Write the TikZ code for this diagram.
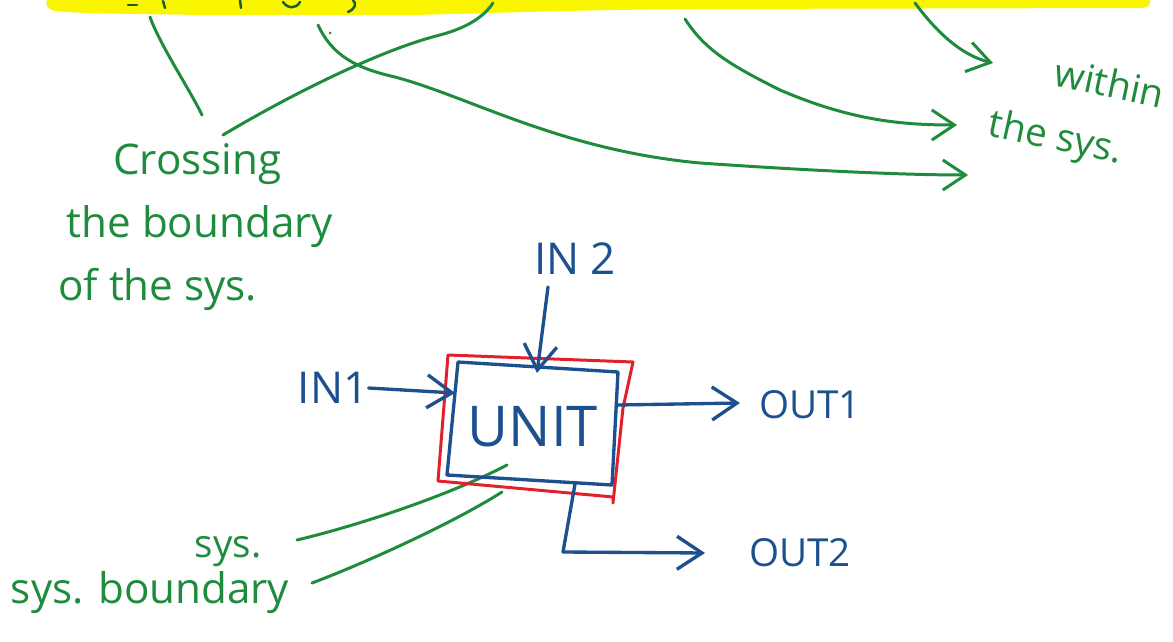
\documentclass[tikz,border=0pt]{standalone}
\usepackage{fontspec}
\setmainfont{Open Sans}
\usetikzlibrary{arrows.meta}
\definecolor{gink}{RGB}{30,140,60}
\definecolor{gdark}{RGB}{25,95,45}
\definecolor{bink}{RGB}{28,80,142}
\definecolor{rink}{RGB}{226,32,44}
\definecolor{hilite}{RGB}{250,246,0}
\begin{document}
\begin{tikzpicture}[x=0.02cm,y=-0.02cm,
  ink/.style={line width=1.7pt, line cap=round, line join=round},
  green ink/.style={ink, draw=gink},
  blue ink/.style={ink, draw=bink, line width=1.9pt},
  red ink/.style={ink, draw=rink},
  barb/.style={-{Straight Barb[length=4.5mm,width=6mm]}},
  big barb/.style={-{Straight Barb[length=5mm,width=6.6mm]}},
  glabel/.style={text=gink, inner sep=0pt, font=\fontsize{24}{36}\selectfont},
  blabel/.style={text=bink, inner sep=0pt}]
\useasboundingbox (0,0) rectangle (1173,642);
\fill[white] (0,0) rectangle (1173,642);

% highlighter stroke along the top edge
\fill[hilite] (47,0) -- (1150,0) -- (1150,2)
  .. controls (1150,7) and (1146,8) .. (1140,8) -- (700,9)
  .. controls (560,10) and (470,14) .. (410,15) -- (210,15)
  .. controls (120,14) and (70,13) .. (55,11)
  .. controls (47,9) and (45,5) .. (47,0) -- cycle;
% bits of writing under the highlighter
\begin{scope}[ink, draw=gdark, line width=1.4pt]
  \draw (128,5) -- (137,5);
  \draw (163,1) -- (165,8);
  \draw (240,0) -- (241,8);
  \draw (283,2) .. controls (288,9) and (296,9) .. (300,2);
  \draw (353,0) .. controls (357,4) and (355,9) .. (348,12);
\end{scope}

% ---- green notes ----
\node[glabel, align=left, anchor=north west] (cross) at (58,143)
  {\hspace*{1.3em}Crossing\\\hspace*{0.2em}the boundary\\of the sys.};
\node[glabel, font=\fontsize{22}{36}\selectfont, align=left, rotate=-12] (within)
  at (1076,112) {\hspace*{1.4em}within\\the sys.};
\node[glabel, font=\fontsize{22}{28}\selectfont, anchor=base] (sys) at (228,557) {sys.};
\node[glabel, anchor=base] (sysb) at (150,603) {sys. boundary};

\coordinate (aS) at (150,17);   \coordinate (aE) at (202,115);
\coordinate (bS) at (223,135);  \coordinate (bE) at (493,3);
\coordinate (cS) at (318,25);   \coordinate (cE) at (968,175);
\coordinate (dS) at (685,19);   \coordinate (dE) at (957,125);
\coordinate (eS) at (915,3);    \coordinate (eE) at (993,63);
\coordinate (s1S) at (297,540); \coordinate (s1E) at (507,465);
\coordinate (s2S) at (312,583); \coordinate (s2E) at (502,492);

\draw[green ink] (aS) .. controls (160,45) and (190,90) .. (aE);
\draw[green ink] (bS) .. controls (290,95) and (380,50) .. (440,35)
  .. controls (470,27) and (485,15) .. (bE);
\draw[green ink, barb] (cS) .. controls (332,55) and (355,68) .. (395,77)
  .. controls (470,97) and (560,150) .. (700,163)
  .. controls (800,170) and (900,175) .. (cE);
\draw[green ink, barb] (dS) .. controls (705,50) and (730,65) .. (780,90)
  .. controls (850,120) and (900,125) .. (dE);
\draw[green ink, barb] (eS) .. controls (935,30) and (960,55) .. (eE);
\fill[gink] (330,33) circle (1.5);
\draw[green ink] (s1S) .. controls (360,525) and (450,495) .. (s1E);
\draw[green ink] (s2S) .. controls (360,565) and (450,525) .. (s2E);

% ---- the unit and its streams ----
\coordinate (rTL) at (448,355); \coordinate (rTR) at (633,362);
\coordinate (rR) at (623,408);  \coordinate (rBR) at (613,503);
\coordinate (rBL) at (438,481);
\draw[red ink] (rTL) -- (rTR) -- (rR) -- (rBR) -- (613,497) -- (rBL) -- cycle;

\coordinate (bTL) at (458,362); \coordinate (bTR) at (618,372);
\coordinate (bBR) at (612,485); \coordinate (bBL) at (447,475);
\draw[blue ink] (bTL) -- (bTR) -- (bBR) -- (bBL) -- cycle;

\node[blabel, font=\fontsize{32}{38}\selectfont] (unit) at (533,427) {UNIT};
\node[blabel, font=\fontsize{25}{30}\selectfont] (in2) at (575,259) {IN 2};
\node[blabel, font=\fontsize{25}{30}\selectfont] (in1) at (333,388) {IN1};
\node[blabel, font=\fontsize{22}{26}\selectfont] (out1) at (810,405) {OUT1};
\node[blabel, font=\fontsize{22}{26}\selectfont] (out2) at (800,553) {OUT2};

\coordinate (inL) at (455,393);
\coordinate (in2s) at (548,287); \coordinate (topIn) at (537,373);
\coordinate (outR) at (617,405); \coordinate (o1) at (740,403);
\coordinate (o2a) at (575,484);  \coordinate (o2b) at (563,552);
\coordinate (o2c) at (705,553);

\draw[blue ink, big barb] (in1.east) -- (inL);
\draw[blue ink, big barb] (in2s) -- (topIn);
\draw[blue ink, big barb] (outR) -- (o1);
\draw[blue ink, big barb] (o2a) -- (o2b) -- (o2c);
\end{tikzpicture}
\end{document}
